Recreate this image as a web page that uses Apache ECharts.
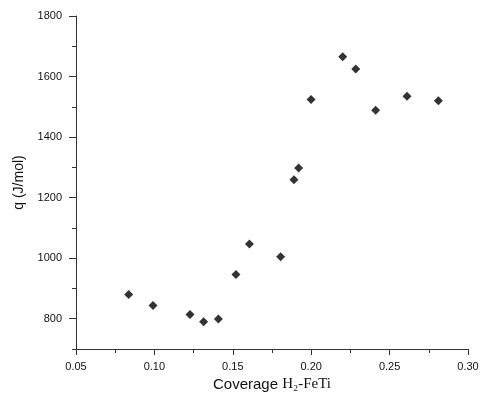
<!DOCTYPE html>
<html><head><meta charset="utf-8">
<script src="https://cdn.jsdelivr.net/npm/echarts@6/dist/echarts.min.js"></script>
<style>html,body{margin:0;padding:0;background:#fff}#c{width:483px;height:405px}</style>
</head><body><div id="c"></div>
<script>
const coverage = [0.0836, 0.0991, 0.1227, 0.1314, 0.1408, 0.152, 0.1606, 0.1805, 0.189, 0.192, 0.1999, 0.2201, 0.2284, 0.2411, 0.2611, 0.2811];
const heat     = [880, 844, 814, 790, 799, 946, 1047, 1005, 1259, 1298, 1524, 1665, 1625, 1489, 1535, 1520];
const xTicks = [0.05, 0.10, 0.15, 0.20, 0.25, 0.30];
const yTicks = [800, 1000, 1200, 1400, 1600, 1800];

const chart = echarts.init(document.getElementById('c'));
const axisCol = '#333';
const txt = '#111';
chart.setOption({
  animation: false,
  grid: {left: 76, right: 15, top: 16, bottom: 56},
  xAxis: {
    type: 'value', min: 0.05, max: 0.30, interval: 0.05,
    name: '{a|Coverage }{b|H₂-FeTi}', nameLocation: 'middle', nameGap: 28,
    nameTextStyle: {rich: {
      a: {fontFamily: 'Liberation Sans', fontSize: 15, color: txt},
      b: {fontFamily: 'Liberation Serif', fontSize: 15, color: txt}
    }},
    axisLine: {show: true, lineStyle: {color: axisCol, width: 1}},
    axisTick: {show: true, inside: false, length: 6, lineStyle: {color: axisCol}},
    minorTick: {show: true, splitNumber: 2, length: 4, lineStyle: {color: axisCol}},
    splitLine: {show: false},
    axisLabel: {margin: 12, fontFamily: 'Liberation Sans', fontSize: 11, color: txt,
      customValues: xTicks, formatter: v => v.toFixed(2)}
  },
  yAxis: [{
    type: 'value', min: 700, max: 1800,
    name: 'q (J/mol)', nameLocation: 'middle', nameGap: 47,
    nameTextStyle: {fontFamily: 'Liberation Sans', fontSize: 14, color: txt},
    axisLine: {show: true, lineStyle: {color: axisCol, width: 1}},
    axisTick: {show: true, inside: false, length: 7, customValues: yTicks, lineStyle: {color: axisCol}},
    splitLine: {show: false},
    axisLabel: {margin: 14, fontFamily: 'Liberation Sans', fontSize: 11, color: txt,
      customValues: yTicks, formatter: v => String(v)}
  }, {
    type: 'value', min: 700, max: 1800, interval: 100, position: 'left',
    axisLine: {show: false},
    axisTick: {show: true, inside: false, length: 4, lineStyle: {color: axisCol}},
    axisLabel: {show: false},
    splitLine: {show: false}
  }],
  series: [{
    type: 'scatter', symbol: 'diamond', symbolSize: 9,
    itemStyle: {color: '#000'},
    data: coverage.map((x, i) => [x, heat[i]])
  }]
});
</script></body></html>
